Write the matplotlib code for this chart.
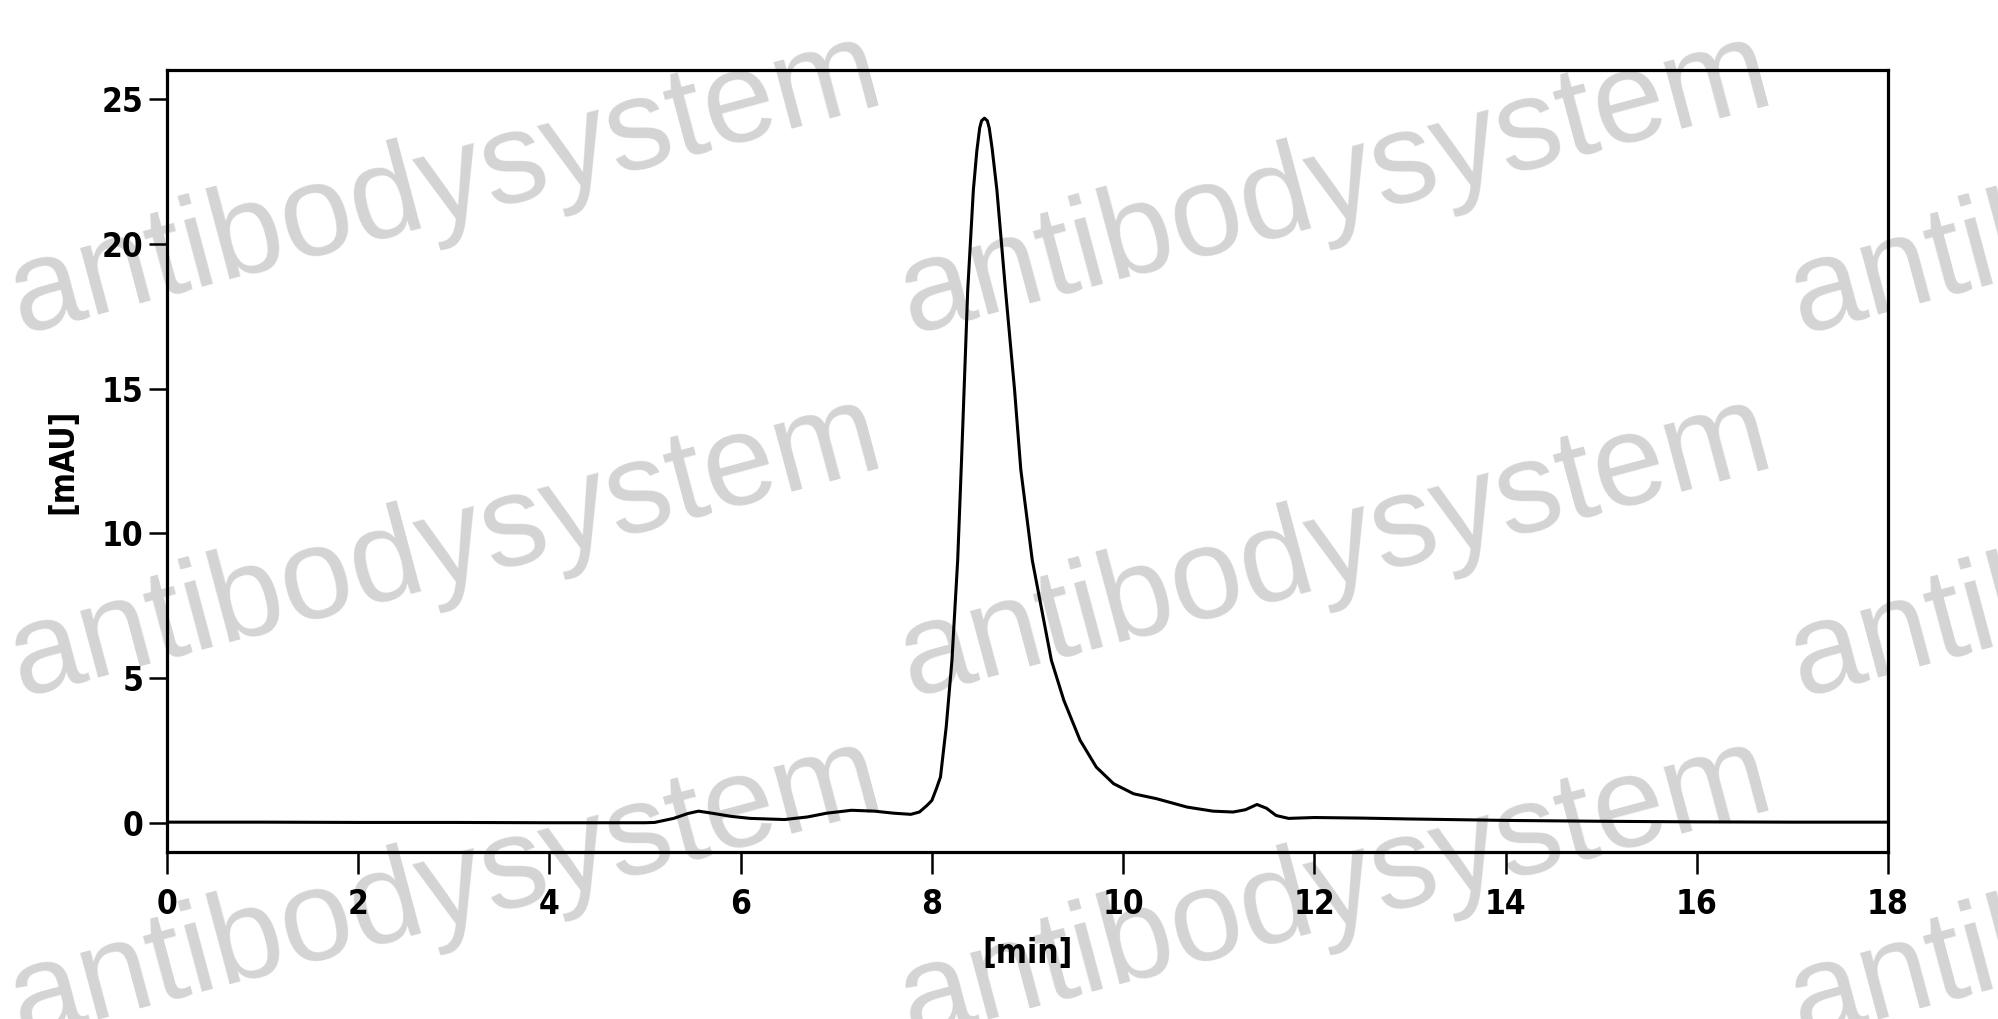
import matplotlib
matplotlib.use("Agg")
import matplotlib.pyplot as plt

# chromatogram
time_min = [0.0, 1.0, 2.0, 3.0, 4.0, 5.0, 5.1, 5.3, 5.45, 5.56, 5.7, 5.9, 6.1, 6.46,
            6.7, 6.9, 7.16, 7.4, 7.6, 7.78, 7.87, 7.95, 8.0, 8.05, 8.09, 8.15, 8.21,
            8.27, 8.31, 8.337, 8.375, 8.434, 8.47, 8.5, 8.52, 8.55, 8.58, 8.6, 8.63,
            8.68, 8.77, 8.865, 8.93, 9.05, 9.15, 9.25, 9.38, 9.55, 9.72, 9.9, 10.11,
            10.35, 10.67, 10.94, 11.15, 11.28, 11.4, 11.5, 11.6, 11.73, 12.0, 12.5,
            13.0, 14.0, 15.0, 16.0, 17.0, 18.0]
signal_mau = [0.02, 0.02, 0.01, 0.01, 0.0, 0.0, 0.01, 0.15, 0.32, 0.40, 0.33, 0.22,
              0.15, 0.11, 0.2, 0.33, 0.43, 0.4, 0.33, 0.29, 0.37, 0.6, 0.77, 1.2,
              1.58, 3.31, 5.61, 9.07, 12.5, 14.95, 18.4, 21.86, 23.2, 24.0, 24.25,
              24.34, 24.25, 24.0, 23.3, 21.86, 18.4, 14.95, 12.2, 9.07, 7.34, 5.61,
              4.23, 2.85, 1.92, 1.35, 1.0, 0.83, 0.54, 0.40, 0.37, 0.45, 0.63, 0.5,
              0.25, 0.15, 0.18, 0.16, 0.13, 0.08, 0.05, 0.03, 0.02, 0.02]

x_ticks = [0, 2, 4, 6, 8, 10, 12, 14, 16, 18]
y_ticks = [0, 5, 10, 15, 20, 25]

label_font = dict(family="DejaVu Sans", stretch="condensed", weight="bold", size=24)

fig = plt.figure(figsize=(19.99, 10.19), dpi=100)
ax = fig.add_axes([0.0835, 0.1642, 0.861, 0.767])
ax.patch.set_alpha(0)

# watermark, tiled behind the plot
for row_y in [0.818, 0.462, 0.126]:
    for col_x in [0.223, 0.668, 1.113]:
        fig.text(col_x, row_y, "antibodysystem", fontsize=93, color="#d4d4d4",
                 family="Liberation Sans", rotation=15, rotation_mode="anchor",
                 ha="center", va="center", zorder=-1)

ax.plot(time_min, signal_mau, color="black", lw=2.2)

ax.set_xlim(0, 18)
ax.set_ylim(-1.0, 26.0)
ax.set_xticks(x_ticks)
ax.set_yticks(y_ticks)

for s in ax.spines.values():
    s.set_linewidth(2.3)

ax.tick_params(axis="x", direction="out", length=16, width=1.8, pad=10)
ax.tick_params(axis="y", direction="out", length=13, width=1.8, pad=4)
for lab in ax.get_xticklabels() + ax.get_yticklabels():
    lab.set_fontproperties(label_font)

ax.set_xlabel("[min]", fontdict=label_font, labelpad=12)
ax.set_ylabel("[mAU]", fontdict=label_font, labelpad=16)

fig.savefig("out.png", dpi=100)
